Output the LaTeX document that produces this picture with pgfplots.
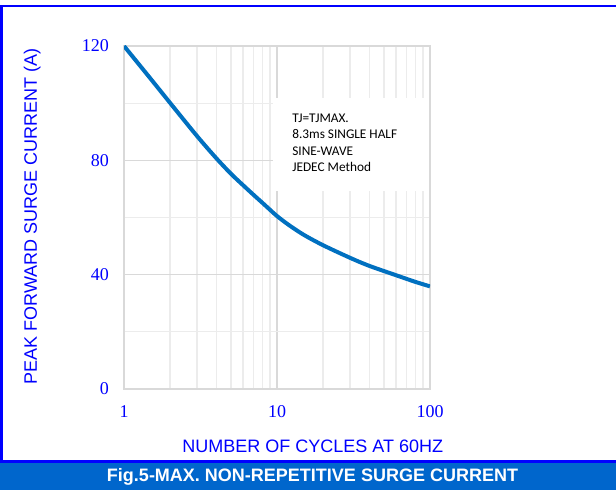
\documentclass[border=0pt]{standalone}
\usepackage{pgfplots}
\pgfplotsset{compat=1.18}
\usepackage{fontspec}
\setmainfont{Liberation Serif}
\newfontfamily\arial{Liberation Sans}
\newfontfamily\carlito{Carlito}
\definecolor{labelblue}{RGB}{0,0,255}
\definecolor{curveblue}{RGB}{0,112,192}
\definecolor{banner}{RGB}{0,102,204}
\definecolor{gridminor}{RGB}{236,236,236}
\definecolor{gridmajor}{RGB}{217,217,217}
\begin{document}
\begin{tikzpicture}[x=1bp,y=1bp]
\path[use as bounding box, fill=white] (0,0) rectangle (616,490);
\fill[banner] (0,0) rectangle (616,27);
\draw[labelblue, line width=2.7bp] (616,484) -- (1.5,484) -- (1.5,28.7) -- (616,28.7);
\node[text=white, font=\arial\bfseries\fontsize{18bp}{20bp}\selectfont] at (312.5,13.3) {Fig.5-MAX. NON-REPETITIVE SURGE CURRENT};
\begin{axis}[
  at={(124bp,101bp)}, anchor=south west,
  scale only axis, width=306bp, height=343bp,
  xmode=log, xmin=1, xmax=100, ymin=0, ymax=120,
  xtick={1,10,100}, xticklabels={1,10,100},
  ytick={0,40,80,120}, yticklabels={0,40,80,120},
  minor ytick={20,60,100},
  minor x tick num=8,
  grid=both,
  major grid style={gridmajor, line width=1.2bp},
  minor grid style={gridminor, line width=1.2bp},
  axis line style={gridmajor, line width=1.2bp},
  major tick length=0pt, minor tick length=0pt,
  tick label style={text=labelblue, font=\fontsize{18bp}{20bp}\selectfont, inner sep=0pt},
  xticklabel style={anchor=north, yshift=-16.5bp},
  yticklabel style={anchor=east, xshift=-15bp},
  xlabel={NUMBER OF CYCLES AT 60HZ},
  ylabel={PEAK FORWARD SURGE CURRENT (A)},
  label style={text=labelblue, font=\arial\fontsize{18bp}{20bp}\selectfont, inner sep=0pt},
  xlabel style={at={(axis description cs:0.617,-0.168)}, anchor=center},
  ylabel style={at={(axis description cs:-0.3,0.503)}, anchor=center},
  clip=true,
]
\fill[white] (axis cs:9.42,69.2) rectangle (axis cs:99,101.7);
\node[anchor=north west, align=left, inner sep=0pt, font=\carlito\fontsize{13.3bp}{16.6bp}\selectfont]
  at (axis cs:12.55,96.4) {TJ=TJMAX.\\8.3ms SINGLE HALF\\SINE-WAVE\\JEDEC Method};
\addplot[curveblue, line width=4bp, smooth] coordinates {
(1,120) (1.5,108.4) (2,100.1) (3,88.5) (4,80.8) (5,75.3) (6,71.3) (7,68) (8,65.2)
(9,62.7) (10,60.5) (12,57.3) (15,53.9) (20,50.3) (30,45.9) (40,43.1) (60,39.8) (80,37.5) (100,35.9)
};
\end{axis}
\end{tikzpicture}
\end{document}
